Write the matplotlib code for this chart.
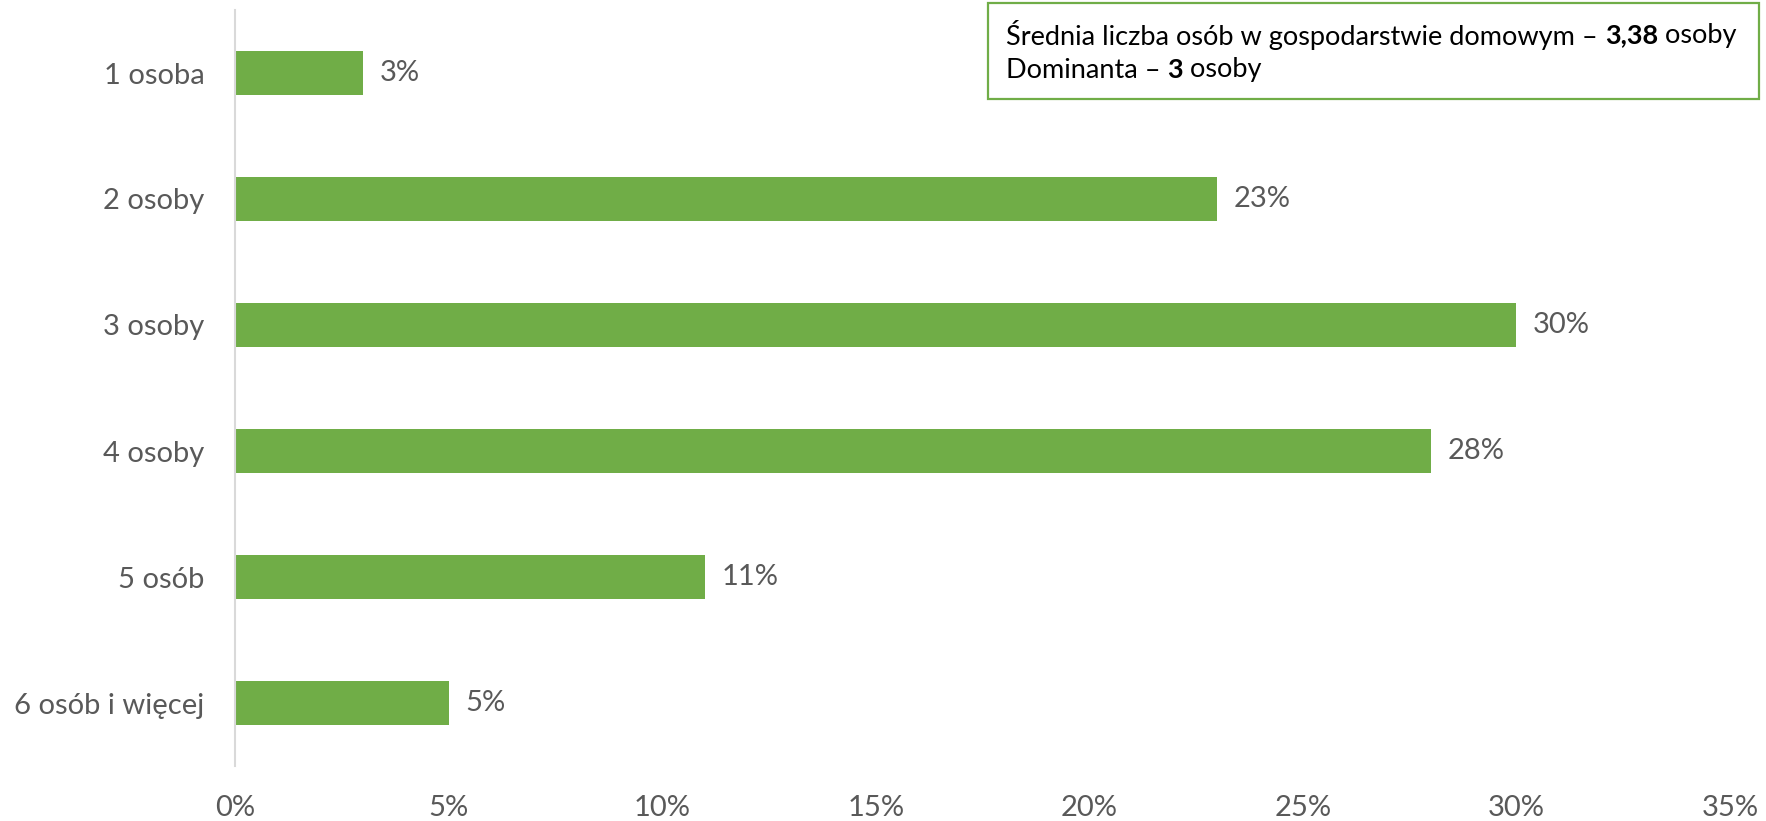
import matplotlib
matplotlib.use('Agg')
import matplotlib.pyplot as plt
from matplotlib.patches import Rectangle
from matplotlib.ticker import FuncFormatter

categories = ['1 osoba', '2 osoby', '3 osoby', '4 osoby', '5 osób', '6 osób i więcej']
values = [3, 23, 30, 28, 11, 5]
xticks = [0, 5, 10, 15, 20, 25, 30, 35]

green = '#70AD47'
grey = '#595959'
plt.rcParams['font.family'] = ['Lato', 'DejaVu Sans']

fig = plt.figure(figsize=(17.66, 8.21), dpi=100)
ax = fig.add_axes([235/1766, 55/821, (1730-235)/1766, (766-10)/821])

ypos = list(range(len(categories)))
bars = ax.barh(ypos, values, height=0.357, color=green)
ax.bar_label(bars, labels=[f'{v}%' for v in values], padding=12, fontsize=21, color=grey)

ax.set_ylim(5.5, -0.5)
ax.set_xlim(0, 35)
ax.set_yticks(ypos)
ax.set_yticklabels(categories, fontsize=21, color=grey)
ax.set_xticks(xticks)
ax.xaxis.set_major_formatter(FuncFormatter(lambda v, p: f'{v:.0f}%'))
ax.tick_params(axis='x', length=0, pad=21, labelsize=21, labelcolor=grey)
ax.tick_params(axis='y', length=0, pad=22)
for s in ['top', 'right', 'bottom']:
    ax.spines[s].set_visible(False)
ax.spines['left'].set_color('#D9D9D9')
ax.spines['left'].set_linewidth(1.5)

# info box in the top right corner
fig.patches.append(Rectangle((988/1766, 1 - 99/821), (1759-988)/1766, 96/821,
                             transform=fig.transFigure, fill=False,
                             edgecolor=green, linewidth=1.6))

lines = [
    [('Średnia liczba osób w gospodarstwie domowym – ', 'normal'), ('3,38', 'bold'), (' osoby', 'normal')],
    [('Dominanta – ', 'normal'), ('3', 'bold'), (' osoby', 'normal')],
]
fig.canvas.draw()
r = fig.canvas.get_renderer()
for i, parts in enumerate(lines):
    x = 1006
    y = 821 - (35 + 35*i)
    for txt, w in parts:
        t = fig.text(x/1766, y/821, txt, fontsize=19.5, fontweight=w, color='black', va='center', ha='left')
        bb = t.get_window_extent(renderer=r)
        x += bb.width

fig.savefig('out.png', dpi=100)
